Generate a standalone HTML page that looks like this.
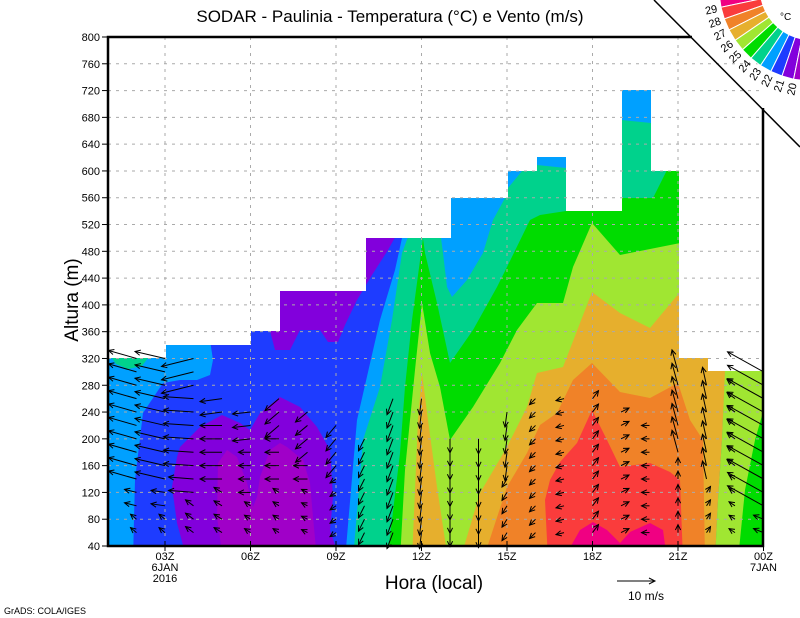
<!DOCTYPE html>
<html><head><meta charset="utf-8"><style>
html,body{margin:0;padding:0;background:#fff;}
svg{display:block;}
text{font-family:"Liberation Sans",sans-serif;fill:#000;}
</style></head><body>
<svg id="s" width="800" height="618" viewBox="0 0 800 618" xmlns="http://www.w3.org/2000/svg">
<defs>
<clipPath id="m"><polygon points="108,546 108,358 166,358 166,345 251,345 251,331 280,331 280,291 366,291 366,238 451,238 451,198 508,198 508,171 537,171 537,157 566,157 566,211 622,211 622,90 651,90 651,171 679,171 679,358 708,358 708,371 763,371 763,546"/></clipPath>
</defs>
<g clip-path="url(#m)">
<rect x="100" y="80" width="670" height="480" fill="#00d28c"/>
<polygon fill="#00a0ff" points="100,560 100,200 408,200 408,237 402,253 392,320 380,387 363,440 353,560"/>
<polygon fill="#00d28c" points="112,358 148,358 142,366 128,369 116,364"/>
<polygon fill="#1e3cff" points="133,560 135,480 143,413 163,383 180,380 197,380 210,375 213,360 210,340 402,230 402,238 395,270 380,320 357,420 345,560"/>
<polygon fill="#8200dc" points="270,331 280,331 280,285 366,285 366,232 398,232 388,250 372,275 357,300 345,325 338,342 328,342 320,330 300,330 290,350 275,350"/>
<polygon fill="#8200dc" points="187,560 177,523 172,487 177,457 180,447 200,427 222,415 240,423 250,430 260,413 280,397 300,407 317,427 330,450 333,497 330,530 340,560"/>
<polygon fill="#a000c8" points="218,463 217,517 223,560 317,560 313,517 310,483 303,460 287,447 280,443 270,450 260,477 257,497 253,507 247,483 237,457 227,450"/>
<polygon fill="#00a0ff" points="441,238 451,238 451,198 505,198 493,220 483,253 467,280 452,297 447,287 443,253"/>
<polygon fill="#00a0ff" points="508,171 522,171 508,188"/>
<polygon fill="#00a0ff" points="537,150 566,150 566,168 537,165"/>
<polygon fill="#00a0ff" points="622,85 651,85 651,123 622,120"/>
<polygon fill="#00dc00" points="387,560 392,520 400,453 405,387 412,320 423,238 425,253 437,303 450,363 473,330 497,287 507,267 530,220 540,215 566,211 622,198 653,198 667,170 679,170 679,560"/>
<polygon fill="#a0e632" points="400,560 405,470 415,370 422,303 430,353 440,387 450,440 473,407 500,363 517,330 537,303 563,303 573,267 592,223 620,255 680,243 680,560"/>
<polygon fill="#a0e632" points="715,560 718,500 722,440 725,365 770,365 770,560"/>
<polygon fill="#00dc00" points="738,560 745,490 755,440 765,405 765,560"/>
<polygon fill="#e6af2d" points="412,560 418,420 422,373 428,420 437,487 448,560"/>
<polygon fill="#e6af2d" points="460,560 480,493 507,447 527,407 537,373 563,367 592,292 620,313 650,328 680,292 722,300 725,371 722,440 718,500 715,560"/>
<polygon fill="#f08228" points="483,560 507,487 527,453 540,425 557,413 573,380 592,363 620,392 650,398 678,383 690,420 703,440 705,560"/>
<polygon fill="#fa3c3c" points="548,560 545,500 550,480 560,462 577,443 592,410 607,440 620,467 650,463 670,472 680,480 683,560"/>
<polygon fill="#f00082" points="563,560 580,530 593,522 607,530 620,543 630,532 650,523 663,530 667,560"/>
</g>
<g id="grid" stroke="#aaa" stroke-width="1" stroke-dasharray="3,5"></g>
<g id="arr" stroke="#000" stroke-width="1" fill="none"></g>
<g stroke="#000" fill="none">
<polyline points="692,37 108,37 108,546 763,546 763,108" stroke-width="2.5"/>
<line x1="654" y1="0" x2="800" y2="147" stroke-width="1.5"/>
<line x1="617" y1="581" x2="655" y2="581" stroke-width="1"/>
<polyline points="649,578 655,581 649,584" stroke-width="1"/>
</g>
<g id="leg"></g>
<text x="390" y="22" font-size="17" text-anchor="middle">SODAR - Paulinia - Temperatura (°C) e Vento (m/s)</text>
<text x="78" y="300" font-size="19" text-anchor="middle" transform="rotate(-90 78 300)">Altura (m)</text>
<text x="434" y="589" font-size="19" text-anchor="middle">Hora (local)</text>
<text x="628" y="600" font-size="12">10 m/s</text>
<text x="4" y="614" font-size="9">GrADS: COLA/IGES</text>
<text x="780" y="20" font-size="10">°C</text>
<g id="lab" font-size="11"></g>
</svg>
<script>
var NS="http://www.w3.org/2000/svg";
function el(p,t,a,txt){var e=document.createElementNS(NS,t);for(var k in a)e.setAttribute(k,a[k]);if(txt!==undefined)e.textContent=txt;document.getElementById(p).appendChild(e);return e;}
function Y(m){return 546-(m-40)*26.79/40;}
function X(h){return 108+(h-1)*28.5;}
for(var m=80;m<=760;m+=40){el("grid","line",{x1:108,y1:Y(m),x2:763,y2:Y(m)});}
for(var h=3;h<=21;h+=3){el("grid","line",{x1:X(h),y1:37,x2:X(h),y2:546});}
for(var m=40;m<=800;m+=40){el("lab","line",{x1:102,y1:Y(m),x2:108,y2:Y(m),stroke:"#000"});el("lab","text",{x:100,y:Y(m)+4,"text-anchor":"end"},""+m);}
var xl=["03Z","06Z","09Z","12Z","15Z","18Z","21Z","00Z"];
for(var i=0;i<8;i++){var x=X(3+3*i);el("lab","line",{x1:x,y1:541,x2:x,y2:551,stroke:"#000"});el("lab","text",{x:x,y:560,"text-anchor":"middle"},xl[i]);}
el("lab","text",{x:X(3),y:571,"text-anchor":"middle"},"6JAN");
el("lab","text",{x:X(3),y:582,"text-anchor":"middle"},"2016");
el("lab","text",{x:X(24),y:571,"text-anchor":"middle"},"7JAN");
var cols=["#f00082","#fa3c3c","#f08228","#e6af2d","#a0e632","#00dc00","#00d28c","#00a0ff","#1e3cff","#8200dc","#a000c8"];
var cx=812,cy=-12,r1=52,r2=93,a0=175.4,da=7.4;
function pt(r,a){var t=a*Math.PI/180;return [cx+r*Math.cos(t),cy+r*Math.sin(t)];}
for(var i=0;i<11;i++){var A=a0-i*da,B=A-da;var p1=pt(r2,A),p2=pt(r2,B),p3=pt(r1,B),p4=pt(r1,A);
el("leg","polygon",{points:[p1,p2,p3,p4].map(function(p){return p[0].toFixed(1)+","+p[1].toFixed(1)}).join(" "),fill:cols[i],stroke:"#fff","stroke-width":1});}
for(var i=0;i<10;i++){var A=a0-(i+1)*da;var p=pt(97,A);var rot=A-180;
el("lab","text",{x:p[0].toFixed(1),y:p[1].toFixed(1),"text-anchor":"end",transform:"rotate("+rot.toFixed(1)+" "+p[0].toFixed(1)+" "+(p[1]).toFixed(1)+") translate(0,4)"},""+(29-i));}
var topm={2:320,3:320,4:320,5:260,6:240,7:260,8:240,9:220,10:200,11:260,12:260,13:200,14:200,15:240,16:260,17:260,18:260,19:240,20:220,21:300,22:280,23:280,24:300};
function vec(h,m){
 if(h==2){return m>=140?[-28,-8]:(m>=100?[-12,-3]:[-6,-5]);}
 if(h==3){return m>=140?[-30,-7]:(m>=100?[-14,-2]:[-6,-5]);}
 if(h==4){return m>=280?[-32,8]:(m>=160?[-30,-2]:(m>=120?[-25,-2]:[-8,-6]));}
 if(h==5){return m>=240?[-22,3]:(m>=140?[-22,0]:[-8,-5]);}
 if(h==6){return m>=200?[-18,2]:(m>=120?[-12,0]:[-6,-4]);}
 if(h==7){return m>=220?[-14,12]:(m>=140?[-14,0]:[-6,-4]);}
 if(h==8){return m>=180?[-12,10]:(m>=140?[-14,0]:[-6,-3]);}
 if(h==9){return m>=160?[-10,12]:[-6,4];}
 if(h==10){return [-6,12];}
 if(h==11){return [-6,16];}
 if(h==12){return [-2,16];}
 if(h==13){return [0,14];}
 if(h==14){return [0,15];}
 if(h==15){return m>=160?[-2,15]:[-5,8];}
 if(h==16){return [-6,6];}
 if(h==17){return [-8,2];}
 if(h==18){return [6,-8];}
 if(h==19){return [8,-4];}
 if(h==20){return [-8,0];}
 if(h==21){return m>=180?[-6,-22]:[0,-8];}
 if(h==22){return m>=140?[-4,-18]:[4,-6];}
 if(h==23){return m>=160?[-8,-6]:[-6,-4];}
 if(h==24){return m>=100?[-36,-20]:[-10,-4];}
}
for(var h=2;h<=24;h++){for(var m=60;m<=topm[h];m+=20){var v=vec(h,m);var x0=X(h),y0=Y(m),x1=x0+v[0],y1=y0+v[1];
 var L=Math.hypot(v[0],v[1]);if(L<1)continue;var ux=v[0]/L,uy=v[1]/L;var hl=6,c=Math.cos(0.45),s=Math.sin(0.45);
 var ax=x1-hl*(ux*c-uy*s),ay=y1-hl*(uy*c+ux*s),bx=x1-hl*(ux*c+uy*s),by=y1-hl*(uy*c-ux*s);
 el("arr","line",{x1:x0,y1:y0,x2:x1,y2:y1});
 el("arr","polyline",{points:ax+","+ay+" "+x1+","+y1+" "+bx+","+by});}}
</script>
</body></html>
